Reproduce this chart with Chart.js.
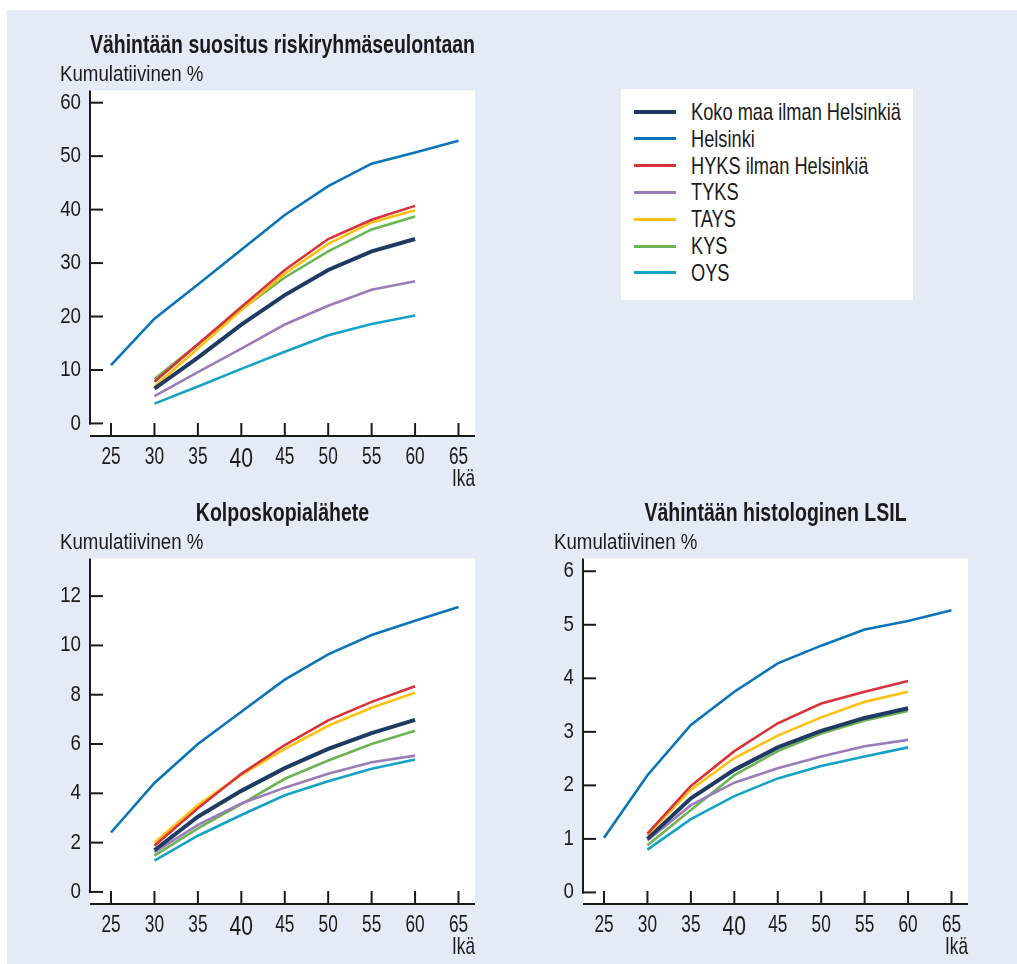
<!DOCTYPE html>
<html lang="fi">
<head>
<meta charset="utf-8">
<script src="https://cdn.jsdelivr.net/npm/chart.js@4.4.0/dist/chart.umd.min.js"></script>
<style>
  body { margin: 0; width: 1017px; height: 964px; position: relative; overflow: hidden; background: #fff;
         font-family: "Liberation Sans", Arial, sans-serif; color: #1a1a1a; }
  #panel { position: absolute; left: 7px; top: 10px; width: 1010px; height: 954px; background: #e4ebf6; }
  .box { position: absolute; width: 440px; height: 471px; }
  #legend { position: absolute; left: 621px; top: 89px; width: 292px; height: 211px; background: #fff; }
  #legend .row { position: absolute; left: 13px; height: 26px; display: flex; align-items: center; white-space: nowrap; font-size: 24px; }
  #legend .sw { width: 42px; margin-right: 15px; flex: none; }
  #legend .tx { display: inline-block; transform: scaleX(0.76); transform-origin: left center; }
</style>
</head>
<body>
<div id="panel"></div>
<div class="box" style="left:60px; top:25px;"><canvas id="c1"></canvas></div>
<div class="box" style="left:60px; top:493px;"><canvas id="c2"></canvas></div>
<div class="box" style="left:554px; top:493px;"><canvas id="c3"></canvas></div>
<div id="legend"></div>

<script>
// Data
const ages = [25, 30, 35, 40, 45, 50, 55, 60, 65];
const names = ['Koko maa ilman Helsinkiä', 'Helsinki', 'HYKS ilman Helsinkiä', 'TYKS', 'TAYS', 'KYS', 'OYS'];
const colors = ['#1f3b63', '#0a74b9', '#d8323b', '#9b7cb8', '#fec20e', '#6cb454', '#14a2c6'];
const widths = [4, 2.6, 2.6, 2.6, 2.6, 2.6, 2.6];

// Vähintään suositus riskiryhmäseulontaan
const seulontaKoko = [null, 6.5, 12.3, 18.5, 24.0, 28.7, 32.2, 34.5, null];
const seulontaHelsinki = [10.9, 19.6, 26.0, 32.5, 39.0, 44.4, 48.6, 50.7, 52.9];
const seulontaHyks = [null, 7.8, 14.8, 21.8, 28.7, 34.5, 38.1, 40.7, null];
const seulontaTyks = [null, 5.1, 9.6, 14.0, 18.5, 22.0, 25.0, 26.6, null];
const seulontaTays = [null, 6.9, 14.0, 21.2, 28.0, 33.6, 37.6, 39.9, null];
const seulontaKys = [null, 8.3, 14.8, 21.3, 27.3, 32.2, 36.3, 38.7, null];
const seulontaOys = [null, 3.7, 6.9, 10.2, 13.4, 16.5, 18.6, 20.2, null];

// Kolposkopialähete
const kolpoKoko = [null, 1.69, 3.05, 4.1, 5.02, 5.8, 6.44, 6.98, null];
const kolpoHelsinki = [2.41, 4.42, 6.0, 7.31, 8.61, 9.64, 10.42, 11.0, 11.56];
const kolpoHyks = [null, 1.87, 3.39, 4.79, 5.96, 6.96, 7.71, 8.34, null];
const kolpoTyks = [null, 1.61, 2.72, 3.59, 4.23, 4.79, 5.26, 5.53, null];
const kolpoTays = [null, 2.0, 3.52, 4.75, 5.8, 6.74, 7.47, 8.08, null];
const kolpoKys = [null, 1.47, 2.58, 3.56, 4.59, 5.33, 6.0, 6.54, null];
const kolpoOys = [null, 1.27, 2.28, 3.12, 3.92, 4.49, 5.0, 5.37, null];

// Vähintään histologinen LSIL
const lsilKoko = [null, 1.0, 1.76, 2.29, 2.71, 3.02, 3.26, 3.44, null];
const lsilHelsinki = [1.02, 2.19, 3.13, 3.75, 4.28, 4.61, 4.91, 5.07, 5.27];
const lsilHyks = [null, 1.1, 1.99, 2.64, 3.16, 3.53, 3.75, 3.95, null];
const lsilTyks = [null, 0.97, 1.63, 2.05, 2.32, 2.54, 2.73, 2.85, null];
const lsilTays = [null, 1.07, 1.92, 2.51, 2.93, 3.27, 3.56, 3.75, null];
const lsilKys = [null, 0.88, 1.54, 2.19, 2.64, 2.97, 3.21, 3.39, null];
const lsilOys = [null, 0.8, 1.37, 1.8, 2.13, 2.36, 2.54, 2.71, null];

const seulontaTicks = [0, 10, 20, 30, 40, 50, 60];
const kolpoTicks = [0, 2, 4, 6, 8, 10, 12];
const lsilTicks = [0, 1, 2, 3, 4, 5, 6];

const FONT = '"Liberation Sans", Arial, sans-serif';
const INK = '#1a1a1a';
// horizontal squeeze per font size (px) so text looks like the condensed original face
const SQUEEZE = {22: 0.85, 24: 0.72, 25: 0.78, 27: 0.78};

// Condensed text: pass a maxWidth to every fillText so the glyphs get squeezed
const narrowText = {
  id: 'narrowText',
  beforeDraw(chart) {
    const ctx = chart.ctx;
    if (ctx._narrow) return;
    const orig = ctx.fillText.bind(ctx);
    ctx.fillText = (t, x, y, mw) => {
      const m = /(\d+(?:\.\d+)?)px/.exec(ctx.font);
      const f = (m && SQUEEZE[Math.round(+m[1])]) || 0.82;
      const w = ctx.measureText(t).width * f;
      orig(t, x, y, mw !== undefined ? Math.min(mw, w) : w);
    };
    ctx._narrow = true;
  }
};

// White plot area, axis lines and inward ticks
const axesPlugin = {
  id: 'axesPlugin',
  beforeDraw(chart) {
    const {ctx, chartArea: a} = chart;
    ctx.save();
    ctx.fillStyle = '#fff';
    ctx.fillRect(a.left, a.top, a.right - a.left, a.bottom - a.top);
    ctx.restore();
  },
  beforeDatasetsDraw(chart) {
    const {ctx, chartArea: a, scales: {x, y}} = chart;
    const line = (x1, y1, x2, y2) => { ctx.beginPath(); ctx.moveTo(x1, y1); ctx.lineTo(x2, y2); ctx.stroke(); };
    ctx.save();
    ctx.strokeStyle = INK;
    ctx.lineWidth = 2;
    const y0 = y.getPixelForValue(0);
    line(a.left, a.top, a.left, y0 + 1);
    y.ticks.forEach(t => { const py = y.getPixelForValue(t.value); line(a.left - 1, py, a.left + 13, py); });
    line(a.left, a.bottom, a.right, a.bottom);
    x.ticks.forEach(t => { const px = x.getPixelForValue(t.value); line(px, a.bottom, px, a.bottom - 13); });
    ctx.restore();
  }
};

function makeChart(id, title, series, yTicks, yMin, yMax, yWidth, padRight) {
  const datasets = series.map((vals, i) => ({
    label: names[i],
    data: ages.map((a, j) => ({x: a, y: vals[j]})),
    borderColor: colors[i],
    borderWidth: widths[i],
    pointRadius: 0,
    tension: 0,
    fill: false
  }));
  return new Chart(document.getElementById(id), {
    type: 'line',
    data: {datasets},
    plugins: [narrowText, axesPlugin],
    options: {
      responsive: true,
      maintainAspectRatio: false,
      animation: false,
      events: [],
      layout: {padding: {left: 0, right: padRight, top: 0, bottom: 0}},
      scales: {
        x: {
          type: 'linear',
          min: 22.58,
          max: 66.9,
          afterBuildTicks: s => { s.ticks = ages.map(v => ({value: v})); },
          afterFit: s => { s.height = 60; },
          grid: {display: false, drawTicks: false},
          border: {display: false},
          ticks: {
            color: INK,
            padding: 7,
            font: c => ({family: FONT, size: c.tick && c.tick.value === 40 ? 27 : 24})
          },
          title: {display: true, text: 'Ikä', align: 'end', color: INK,
                  font: {family: FONT, size: 24}, padding: {top: 0, bottom: 2}}
        },
        y: {
          type: 'linear',
          min: yMin,
          max: yMax,
          afterBuildTicks: s => { s.ticks = yTicks.map(v => ({value: v})); },
          afterFit: s => { s.width = yWidth; },
          grid: {display: false, drawTicks: false},
          border: {display: false},
          ticks: {color: INK, padding: 9, font: {family: FONT, size: 22}}
        }
      },
      plugins: {
        legend: {display: false},
        tooltip: {enabled: false},
        title: {
          display: true, text: title, fullSize: false, color: INK,
          font: {family: FONT, size: 25, weight: 'bold'},
          padding: {top: 6, bottom: 0}
        },
        subtitle: {
          display: true, text: 'Kumulatiivinen %', align: 'start', color: INK,
          font: {family: FONT, size: 22},
          padding: {top: 1, bottom: 2}
        }
      }
    }
  });
}

makeChart('c1', 'Vähintään suositus riskiryhmäseulontaan',
  [seulontaKoko, seulontaHelsinki, seulontaHyks, seulontaTyks, seulontaTays, seulontaKys, seulontaOys],
  seulontaTicks, -2.35, 62.3, 30, 25);
makeChart('c2', 'Kolposkopialähete',
  [kolpoKoko, kolpoHelsinki, kolpoHyks, kolpoTyks, kolpoTays, kolpoKys, kolpoOys],
  kolpoTicks, -0.49, 13.53, 30, 25);
makeChart('c3', 'Vähintään histologinen LSIL',
  [lsilKoko, lsilHelsinki, lsilHyks, lsilTyks, lsilTays, lsilKys, lsilOys],
  lsilTicks, -0.216, 6.24, 29, 26);

// Legend
const legend = document.getElementById('legend');
names.forEach((n, i) => {
  const row = document.createElement('div');
  row.className = 'row';
  row.style.top = (10 + i * 26.8) + 'px';
  row.innerHTML = '<span class="sw" style="height:' + (i === 0 ? 4 : 3) + 'px;background:' + colors[i] + '"></span>' +
                  '<span class="tx">' + n + '</span>';
  legend.appendChild(row);
});
</script>
</body>
</html>
